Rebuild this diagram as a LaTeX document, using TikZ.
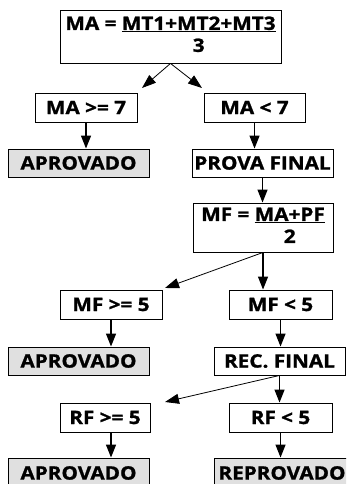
\documentclass[tikz,border=0pt]{standalone}
\usepackage{fontspec}
\setmainfont{Open Sans}[FakeStretch=1.12,BoldFeatures={FakeBold=1.2}]
\usetikzlibrary{arrows.meta,calc}
\begin{document}
\begin{tikzpicture}[x=1pt,y=-1pt,
 box/.style={draw,line width=0.9pt,inner sep=0pt,minimum height=29pt,font=\bfseries\fontsize{18.5}{22}\selectfont},
 res/.style={box,fill=black!12},
 arr/.style={line width=1.3pt,-{Triangle[width=10pt,length=13pt]}},
 darr/.style={line width=0.8pt,-{Triangle[width=10pt,length=14pt]}}]
\clip (0,0) rectangle (346,484);
\fill[white] (0,0) rectangle (346,484);
\node[box,minimum width=221pt,minimum height=53pt] (ma) at (170.5,36.5)
  {MA = \begin{tabular}[t]{@{}c@{}}\underline{MT1+MT2+MT3}\\3\end{tabular}};
\node[box,minimum width=102pt] (ge7) at (86,107.5) {MA >= 7};
\node[box,minimum width=101pt] (lt7) at (254.5,107.5) {MA < 7};
\node[res,minimum width=141pt,minimum height=28pt] (ap1) at (78.5,163) {APROVADO};
\node[box,minimum width=141pt,minimum height=28pt] (pf) at (262.5,163) {PROVA FINAL};
\node[box,minimum width=140pt,minimum height=49pt] (mf) at (263,227.5)
  {MF = \begin{tabular}[t]{@{}c@{}}\underline{MA+PF}\\2\end{tabular}};
\node[box,minimum width=102pt] (mfge) at (111,304.5) {MF >= 5};
\node[box,minimum width=103pt] (mflt) at (280.5,304.5) {MF < 5};
\node[res,minimum width=141pt,minimum height=28pt] (ap2) at (78.5,361) {APROVADO};
\node[box,minimum width=131pt,minimum height=28pt] (rec) at (279.5,361) {REC. FINAL};
\node[box,minimum width=90pt] (rfge) at (105,417.5) {RF >= 5};
\node[box,minimum width=103pt] (rflt) at (280.5,417.5) {RF < 5};
\node[res,minimum width=141pt,minimum height=30pt] (ap3) at (78.5,473) {APROVADO};
\node[res,minimum width=136pt,minimum height=30pt] (rep) at (282,473) {REPROVADO};
\coordinate (t1) at (142,88);
\coordinate (t2) at (202,88);
\coordinate (t3) at (165,288);
\coordinate (t4) at (165,402);
\draw[darr] (ma.south) -- (t1);
\draw[darr] (ma.south) -- (t2);
\draw[arr] (ge7.south) -- (ge7.south |- ap1.north);
\draw[arr] (lt7.south) -- (lt7.south |- pf.north);
\draw[arr] (pf.south) -- (pf.south |- mf.north);
\draw[darr] (mf.south) -- (t3);
\draw[arr] (mf.south) -- (mf.south |- mflt.north);
\draw[arr] (mfge.south) -- (mfge.south |- ap2.north);
\draw[arr] (mflt.south) -- (mflt.south |- rec.north);
\draw[darr] (rec.south) -- (t4);
\draw[arr] (rec.south) -- (rec.south |- rflt.north);
\draw[arr] (rfge.south -| mfge.south) -- (mfge.south |- ap3.north);
\draw[arr] (rflt.south) -- (rflt.south |- rep.north);
\end{tikzpicture}
\end{document}
